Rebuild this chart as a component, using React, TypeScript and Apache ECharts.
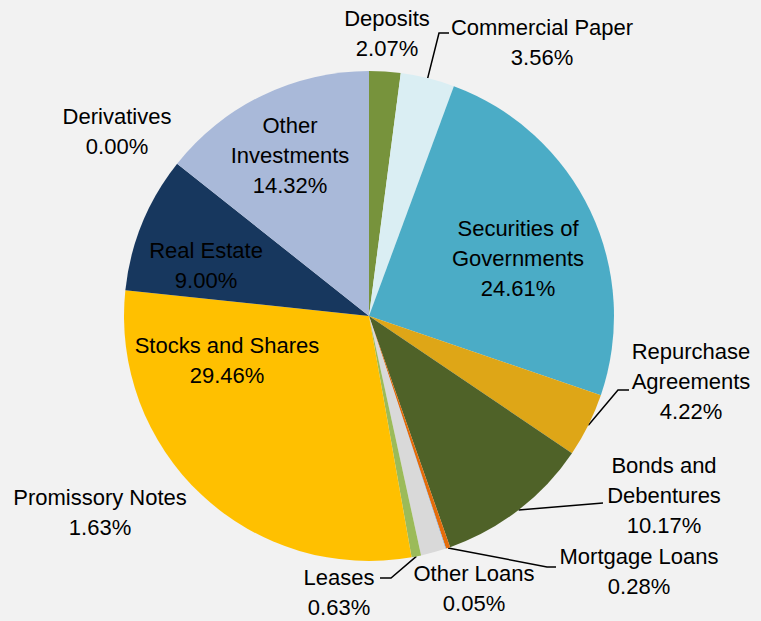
import React, { useEffect, useRef } from "react";
import * as echarts from "echarts";

const categories = [
  "Deposits",
  "Commercial Paper",
  "Securities of Governments",
  "Repurchase Agreements",
  "Bonds and Debentures",
  "Mortgage Loans",
  "Other Loans",
  "Promissory Notes",
  "Leases",
  "Stocks and Shares",
  "Real Estate",
  "Derivatives",
  "Other Investments",
];

const values = [2.07, 3.56, 24.61, 4.22, 10.17, 0.28, 0.05, 1.63, 0.63, 29.46, 9.0, 0.0, 14.32];

const displayNames = [
  "Deposits",
  "Commercial Paper",
  "Securities of\nGovernments",
  "Repurchase\nAgreements",
  "Bonds and\nDebentures",
  "Mortgage Loans",
  "Other Loans",
  "Promissory Notes",
  "Leases",
  "Stocks and Shares",
  "Real Estate",
  "Derivatives",
  "Other\nInvestments",
];

const colors = [
  "#77933C",
  "#DAEEF3",
  "#4BACC6",
  "#DEA617",
  "#4F6228",
  "#E46C0A",
  "#8DB4E2",
  "#D9D9D9",
  "#9BBB59",
  "#FFC000",
  "#17375E",
  "#7F7F7F",
  "#A9B9D9",
];

// label block centres (layout)
const labelPos: number[][] = [
  [387, 33],
  [542, 42],
  [518, 258],
  [691, 381],
  [664, 495],
  [639, 571],
  [474, 588],
  [100, 512],
  [339, 592],
  [227, 360],
  [206, 265],
  [117, 131],
  [290, 155],
];

// elbow points for leader lines (after the anchor on the pie edge)
const linePoints: (number[][] | null)[] = [
  null,
  [[439, 33], [449, 33]],
  null,
  [[618, 390], [629, 390]],
  [[603, 503], [603, 503]],
  [[547, 567], [556, 567]],
  null,
  null,
  [[391, 578], [380, 578]],
  null,
  null,
  null,
  null,
];

export default function App() {
  const ref = useRef<HTMLDivElement>(null);
  useEffect(() => {
    document.body.style.margin = "0";
    if (!ref.current) return;
    const chart = echarts.init(ref.current, undefined, { renderer: "svg" });
    const font = "'Liberation Sans Narrow', 'Arial Narrow', 'Liberation Sans', Arial, sans-serif";
    chart.setOption({
      animation: false,
      backgroundColor: "#F2F2F2",
      series: [
        {
          type: "pie",
          center: [369, 316],
          radius: 245,
          startAngle: 90,
          clockwise: true,
          avoidLabelOverlap: false,
          minShowLabelAngle: 0,
          label: {
            show: true,
            color: "#000",
            fontFamily: font,
            fontSize: 22,
            lineHeight: 30,
            align: "center",
            formatter: (p: any) => `${displayNames[p.dataIndex]}\n${Number(p.value).toFixed(2)}%`,
          },
          labelLine: {
            show: true,
            length: 10,
            length2: 10,
            lineStyle: { color: "#000", width: 1.5 },
          },
          labelLayout: (params: any) => {
            const i = params.dataIndex;
            const pos = labelPos[i];
            const res: any = { x: pos[0], y: pos[1], align: "center", verticalAlign: "middle" };
            const lp = linePoints[i];
            if (lp && params.labelLinePoints) {
              res.labelLinePoints = [params.labelLinePoints[0], lp[0], lp[1]];
            }
            return res;
          },
          data: categories.map((c, i) => ({
            name: c,
            value: values[i],
            itemStyle: { color: colors[i] },
            labelLine: { show: !!linePoints[i] },
          })),
        },
      ],
    });
    return () => chart.dispose();
  }, []);
  return <div ref={ref} style={{ width: 761, height: 621 }} />;
}
